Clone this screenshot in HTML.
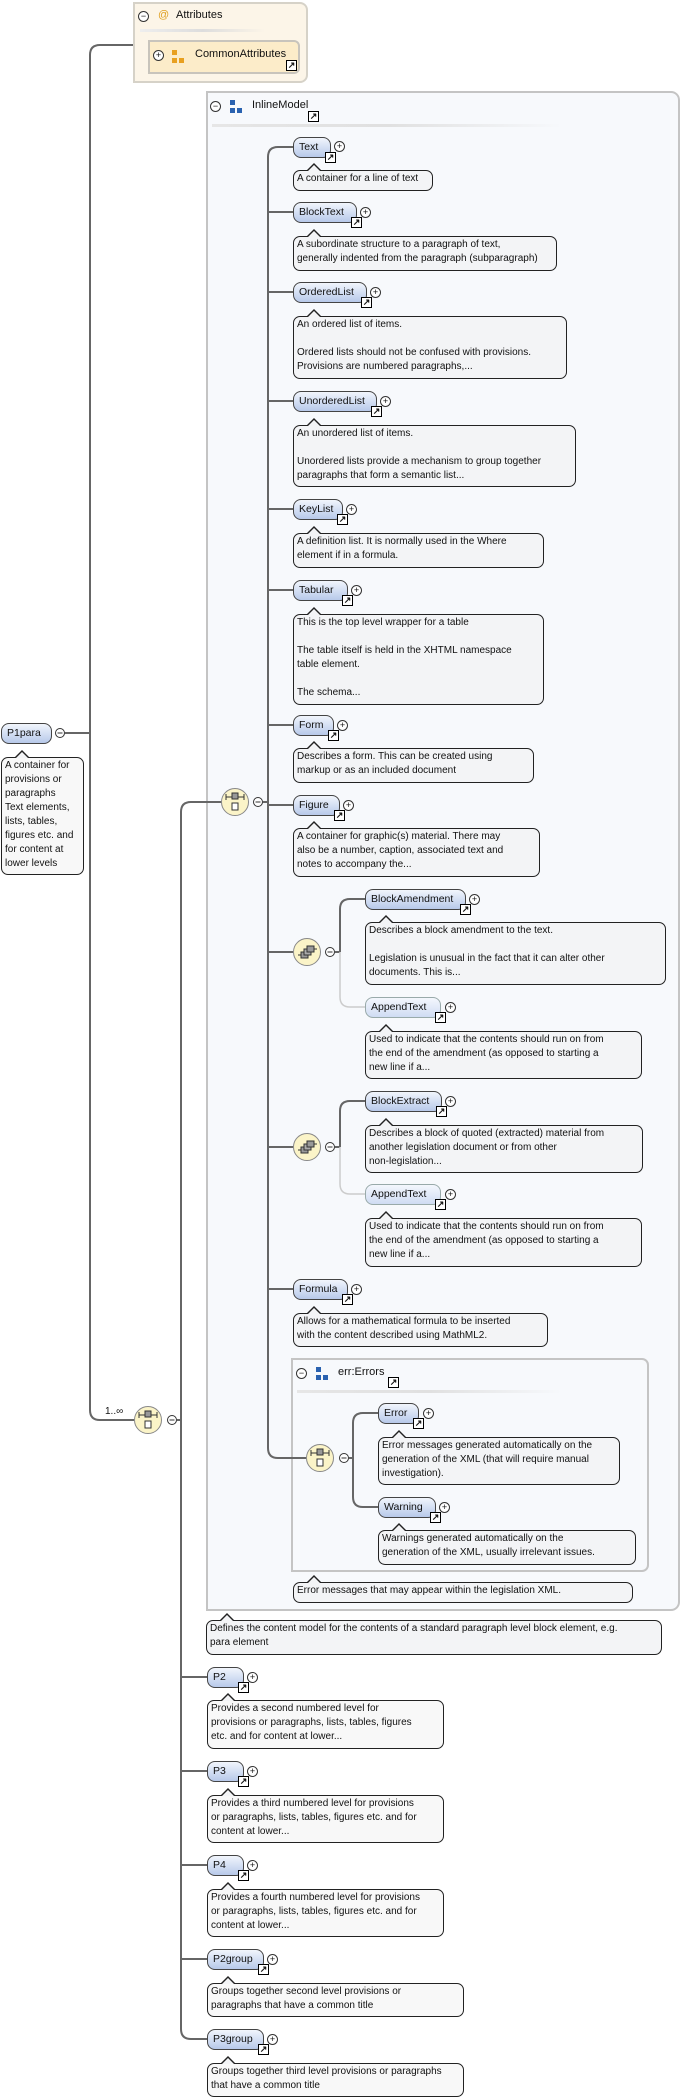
<!DOCTYPE html>
<html><head><meta charset="utf-8">
<style>
html,body{margin:0;padding:0;background:#fff}
body{width:689px;height:2100px;position:relative;overflow:hidden;font-family:"Liberation Sans",sans-serif;color:#111}
.n{position:absolute;height:21px;box-sizing:border-box;border:1px solid #444;border-radius:8px 8px 8px 8px;background:linear-gradient(#f1f5fc,#b7c9ea);font-size:10.5px;line-height:19px;padding-left:5px;white-space:nowrap}
.n.o{border-color:#9aa;background:linear-gradient(#f4f7fd,#cfdcf3)}
.lk{position:absolute;right:-6px;bottom:-6px;width:9px;height:9px;border:1px solid #000;background:#fff;font-size:9px;line-height:9px;text-align:center;font-weight:bold}
.pl{position:absolute;width:9px;height:9px;border:1px solid #333;border-radius:50%;background:#fff;font-size:9px;line-height:9px;text-align:center}
.d{position:absolute;box-sizing:border-box;border:1px solid #222;border-radius:7px;background:#f3f4f6;font-size:10px;line-height:14px;padding:1px 3px;white-space:nowrap}
.d:before{content:"";position:absolute;left:13px;top:-8px;border:7px solid transparent;border-top:0;border-bottom:7px solid #222}
.d:after{content:"";position:absolute;left:14px;top:-6px;border:6px solid transparent;border-top:0;border-bottom:6px solid #f3f4f6}
.box{position:absolute;box-sizing:border-box}
.hd{position:absolute;font-size:11px;white-space:nowrap}
</style></head><body>

<div class="box" style="left:133px;top:2px;width:175px;height:81px;background:#fcf5e8;border:2px solid #d6d2c8;border-radius:0 8px 8px 0"></div>
<div class="pl" style="left:138px;top:11px">−</div>
<div class="hd" style="left:158px;top:9px;color:#e0a020">@</div>
<div class="hd" style="left:176px;top:9px">Attributes</div>
<div class="box" style="left:140px;top:29px;width:125px;height:3px;background:linear-gradient(90deg,#eee,#ddd,#fcf5e8)"></div>
<div class="box" style="left:148px;top:40px;width:152px;height:34px;background:#fcecc9;border:2px solid #c8c4bc;border-radius:0 6px 6px 0"></div>
<div class="pl" style="left:153px;top:50px">+</div>
<div class="box" style="left:172px;top:50px;width:5px;height:5px;background:#e8a020"></div>
<div class="box" style="left:172px;top:58px;width:5px;height:5px;background:#e8a020"></div>
<div class="box" style="left:179px;top:58px;width:5px;height:5px;background:#e8a020"></div>
<div class="hd" style="left:195px;top:48px">CommonAttributes</div>
<div class="lk" style="left:286px;top:60px">↗</div>

<div class="box" style="left:206px;top:91px;width:474px;height:1520px;background:#f7f9fc;border:2px solid #c4c4c4;border-radius:0 9px 9px 0"></div>
<div class="pl" style="left:210px;top:101px">−</div>
<div class="box" style="left:230px;top:100px;width:5px;height:5px;background:#2a62b0"></div>
<div class="box" style="left:230px;top:108px;width:5px;height:5px;background:#2a62b0"></div>
<div class="box" style="left:237px;top:108px;width:5px;height:5px;background:#2a62b0"></div>
<div class="hd" style="left:252px;top:99px">InlineModel</div>
<div class="lk" style="left:308px;top:111px">↗</div>
<div class="box" style="left:212px;top:124px;width:350px;height:3px;background:linear-gradient(90deg,#e6e6e6,#e0e0e0,#f7f9fc)"></div>

<div class="box" style="left:291px;top:1358px;width:358px;height:214px;background:#f7f9fc;border:2px solid #c4c4c4;border-radius:0 7px 7px 0"></div>
<div class="pl" style="left:296px;top:1368px">−</div>
<div class="box" style="left:316px;top:1367px;width:5px;height:5px;background:#2a62b0"></div>
<div class="box" style="left:316px;top:1375px;width:5px;height:5px;background:#2a62b0"></div>
<div class="box" style="left:323px;top:1375px;width:5px;height:5px;background:#2a62b0"></div>
<div class="hd" style="left:338px;top:1366px">err:Errors</div>
<div class="lk" style="left:388px;top:1377px">↗</div>
<div class="box" style="left:297px;top:1390px;width:265px;height:3px;background:linear-gradient(90deg,#e6e6e6,#e0e0e0,#f7f9fc)"></div>

<svg width="689" height="2100" style="position:absolute;left:0;top:0" fill="none">
<g stroke="#666" stroke-width="2">
<path d="M133,45 H100 Q90,45 90,55 V1410 Q90,1420 100,1420 H134"/>
<path d="M65,733 H90"/>
<path d="M222,802 H191 Q181,802 181,812 V2029 Q181,2039 191,2039 H207"/>
<path d="M177,1420 H181 M181,1677 H207 M181,1771 H207 M181,1865 H207 M181,1959 H207"/>
<path d="M263,802 H268"/>
<path d="M293,147 H278 Q268,147 268,157 V1448 Q268,1458 278,1458 H306"/>
<path d="M268,212 H293 M268,292 H293 M268,401 H293 M268,509 H293 M268,590 H293 M268,725 H293 M268,805 H293 M268,952 H293 M268,1147 H293 M268,1289 H293"/>
<path d="M335,952 H340 M365,899 H350 Q340,899 340,909 V952"/>
<path d="M335,1147 H340 M365,1101 H350 Q340,1101 340,1111 V1147"/>
<path d="M349,1458 H353 M378,1413 H363 Q353,1413 353,1423 V1497 Q353,1507 363,1507 H378"/>
</g>
<g stroke="#ccc" stroke-width="1.5">
<path d="M340,952 V997 Q340,1007 350,1007 H365"/>
<path d="M340,1147 V1184 Q340,1194 350,1194 H365"/>
</g>
<g stroke="#888" stroke-width="1" fill="#fbf4c8">
<circle cx="148" cy="1420" r="13.5"/>
<circle cx="235" cy="802" r="13.5"/>
<circle cx="307" cy="952" r="13.5"/>
<circle cx="307" cy="1147" r="13.5"/>
<circle cx="320" cy="1458" r="13.5"/>
</g>
<g stroke="#333" stroke-width="1">
<path d="M139,1415 H157 M139,1412 V1418 M157,1412 V1418"/><rect x="145" y="1411" width="6" height="6" fill="#999"/><rect x="145" y="1421" width="6" height="7" fill="#fff"/>
<path d="M226,797 H244 M226,794 V800 M244,794 V800"/><rect x="232" y="793" width="6" height="6" fill="#999"/><rect x="232" y="803" width="6" height="7" fill="#fff"/>
<path d="M311,1453 H329 M311,1450 V1456 M329,1450 V1456"/><rect x="317" y="1449" width="6" height="6" fill="#999"/><rect x="317" y="1459" width="6" height="7" fill="#fff"/>
<rect x="301" y="952" width="7" height="6" fill="#999"/><rect x="304" y="949" width="7" height="6" fill="#aaa"/><rect x="307" y="946" width="7" height="6" fill="#999"/><path d="M298,955 H301 M314,949 H317"/>
<rect x="301" y="1147" width="7" height="6" fill="#999"/><rect x="304" y="1144" width="7" height="6" fill="#aaa"/><rect x="307" y="1141" width="7" height="6" fill="#999"/><path d="M298,1150 H301 M314,1144 H317"/>
</g>
<g stroke="#333" stroke-width="1" fill="#fff">
<circle cx="60" cy="733" r="4.5"/><circle cx="172" cy="1420" r="4.5"/><circle cx="258" cy="802" r="4.5"/><circle cx="330" cy="952" r="4.5"/><circle cx="330" cy="1147" r="4.5"/><circle cx="344" cy="1458" r="4.5"/>
</g>
<g stroke="#333" stroke-width="1">
<path d="M57.5,733 H62.5 M169.5,1420 H174.5 M255.5,802 H260.5 M327.5,952 H332.5 M327.5,1147 H332.5 M341.5,1458 H346.5"/>
</g>
</svg>
<div class="hd" style="left:105px;top:1406px;font-size:10px">1..∞</div>

<div class="n" style="left:1px;top:723px;width:51px">P1para</div>
<div class="d" style="left:1px;top:757px;width:83px;height:118px;background:#f8f8f8">A container for<br>provisions or<br>paragraphs<br>Text elements,<br>lists, tables,<br>figures etc. and<br>for content at<br>lower levels</div>

<div class="n" style="left:293px;top:137px;width:38px">Text<div class="lk">↗</div></div><div class="pl" style="left:334px;top:141px">+</div>
<div class="d" style="left:293px;top:170px;width:140px;height:21px">A container for a line of text</div>

<div class="n" style="left:293px;top:202px;width:64px">BlockText<div class="lk">↗</div></div><div class="pl" style="left:360px;top:207px">+</div>
<div class="d" style="left:293px;top:236px;width:264px;height:35px">A subordinate structure to a paragraph of text,<br>generally indented from the paragraph (subparagraph)</div>

<div class="n" style="left:293px;top:282px;width:74px">OrderedList<div class="lk">↗</div></div><div class="pl" style="left:370px;top:287px">+</div>
<div class="d" style="left:293px;top:316px;width:274px;height:63px">An ordered list of items.<br>&nbsp;<br>Ordered lists should not be confused with provisions.<br>Provisions are numbered paragraphs,...</div>

<div class="n" style="left:293px;top:391px;width:84px">UnorderedList<div class="lk">↗</div></div><div class="pl" style="left:380px;top:396px">+</div>
<div class="d" style="left:293px;top:425px;width:283px;height:62px">An unordered list of items.<br>&nbsp;<br>Unordered lists provide a mechanism to group together<br>paragraphs that form a semantic list...</div>

<div class="n" style="left:293px;top:499px;width:50px">KeyList<div class="lk">↗</div></div><div class="pl" style="left:346px;top:504px">+</div>
<div class="d" style="left:293px;top:533px;width:251px;height:35px">A definition list. It is normally used in the Where<br>element if in a formula.</div>

<div class="n" style="left:293px;top:580px;width:55px">Tabular<div class="lk">↗</div></div><div class="pl" style="left:351px;top:585px">+</div>
<div class="d" style="left:293px;top:614px;width:251px;height:91px">This is the top level wrapper for a table<br>&nbsp;<br>The table itself is held in the XHTML namespace<br>table element.<br>&nbsp;<br>The schema...</div>

<div class="n" style="left:293px;top:715px;width:41px">Form<div class="lk">↗</div></div><div class="pl" style="left:337px;top:720px">+</div>
<div class="d" style="left:293px;top:748px;width:241px;height:35px">Describes a form. This can be created using<br>markup or as an included document</div>

<div class="n" style="left:293px;top:795px;width:47px">Figure<div class="lk">↗</div></div><div class="pl" style="left:343px;top:800px">+</div>
<div class="d" style="left:293px;top:828px;width:247px;height:49px">A container for graphic(s) material. There may<br>also be a number, caption, associated text and<br>notes to accompany the...</div>

<div class="n" style="left:365px;top:889px;width:101px">BlockAmendment<div class="lk">↗</div></div><div class="pl" style="left:469px;top:894px">+</div>
<div class="d" style="left:365px;top:922px;width:301px;height:63px">Describes a block amendment to the text.<br>&nbsp;<br>Legislation is unusual in the fact that it can alter other<br>documents. This is...</div>

<div class="n o" style="left:365px;top:997px;width:76px">AppendText<div class="lk">↗</div></div><div class="pl" style="left:445px;top:1002px">+</div>
<div class="d" style="left:365px;top:1031px;width:277px;height:48px">Used to indicate that the contents should run on from<br>the end of the amendment (as opposed to starting a<br>new line if a...</div>

<div class="n" style="left:365px;top:1091px;width:77px">BlockExtract<div class="lk">↗</div></div><div class="pl" style="left:445px;top:1096px">+</div>
<div class="d" style="left:365px;top:1125px;width:278px;height:48px">Describes a block of quoted (extracted) material from<br>another legislation document or from other<br>non-legislation...</div>

<div class="n o" style="left:365px;top:1184px;width:76px">AppendText<div class="lk">↗</div></div><div class="pl" style="left:445px;top:1189px">+</div>
<div class="d" style="left:365px;top:1218px;width:277px;height:49px">Used to indicate that the contents should run on from<br>the end of the amendment (as opposed to starting a<br>new line if a...</div>

<div class="n" style="left:293px;top:1279px;width:55px">Formula<div class="lk">↗</div></div><div class="pl" style="left:351px;top:1284px">+</div>
<div class="d" style="left:293px;top:1313px;width:255px;height:34px">Allows for a mathematical formula to be inserted<br>with the content described using MathML2.</div>

<div class="n" style="left:378px;top:1403px;width:41px">Error<div class="lk">↗</div></div><div class="pl" style="left:423px;top:1408px">+</div>
<div class="d" style="left:378px;top:1437px;width:242px;height:48px">Error messages generated automatically on the<br>generation of the XML (that will require manual<br>investigation).</div>

<div class="n" style="left:378px;top:1497px;width:58px">Warning<div class="lk">↗</div></div><div class="pl" style="left:439px;top:1502px">+</div>
<div class="d" style="left:378px;top:1530px;width:258px;height:35px">Warnings generated automatically on the<br>generation of the XML, usually irrelevant issues.</div>

<div class="d" style="left:293px;top:1582px;width:340px;height:21px">Error messages that may appear within the legislation XML.</div>

<div class="d" style="left:206px;top:1620px;width:456px;height:35px">Defines the content model for the contents of a standard paragraph level block element, e.g.<br>para element</div>

<div class="n" style="left:207px;top:1667px;width:37px">P2<div class="lk">↗</div></div><div class="pl" style="left:247px;top:1672px">+</div>
<div class="d" style="left:207px;top:1700px;width:237px;height:49px;background:#f8f8f8">Provides a second numbered level for<br>provisions or paragraphs, lists, tables, figures<br>etc. and for content at lower...</div>

<div class="n" style="left:207px;top:1761px;width:37px">P3<div class="lk">↗</div></div><div class="pl" style="left:247px;top:1766px">+</div>
<div class="d" style="left:207px;top:1795px;width:237px;height:48px;background:#f8f8f8">Provides a third numbered level for provisions<br>or paragraphs, lists, tables, figures etc. and for<br>content at lower...</div>

<div class="n" style="left:207px;top:1855px;width:37px">P4<div class="lk">↗</div></div><div class="pl" style="left:247px;top:1860px">+</div>
<div class="d" style="left:207px;top:1889px;width:237px;height:48px;background:#f8f8f8">Provides a fourth numbered level for provisions<br>or paragraphs, lists, tables, figures etc. and for<br>content at lower...</div>

<div class="n" style="left:207px;top:1949px;width:57px">P2group<div class="lk">↗</div></div><div class="pl" style="left:267px;top:1954px">+</div>
<div class="d" style="left:207px;top:1983px;width:257px;height:34px;background:#f8f8f8">Groups together second level provisions or<br>paragraphs that have a common title</div>

<div class="n" style="left:207px;top:2029px;width:57px">P3group<div class="lk">↗</div></div><div class="pl" style="left:267px;top:2034px">+</div>
<div class="d" style="left:207px;top:2063px;width:257px;height:34px;background:#f8f8f8">Groups together third level provisions or paragraphs<br>that have a common title</div>

</body></html>
